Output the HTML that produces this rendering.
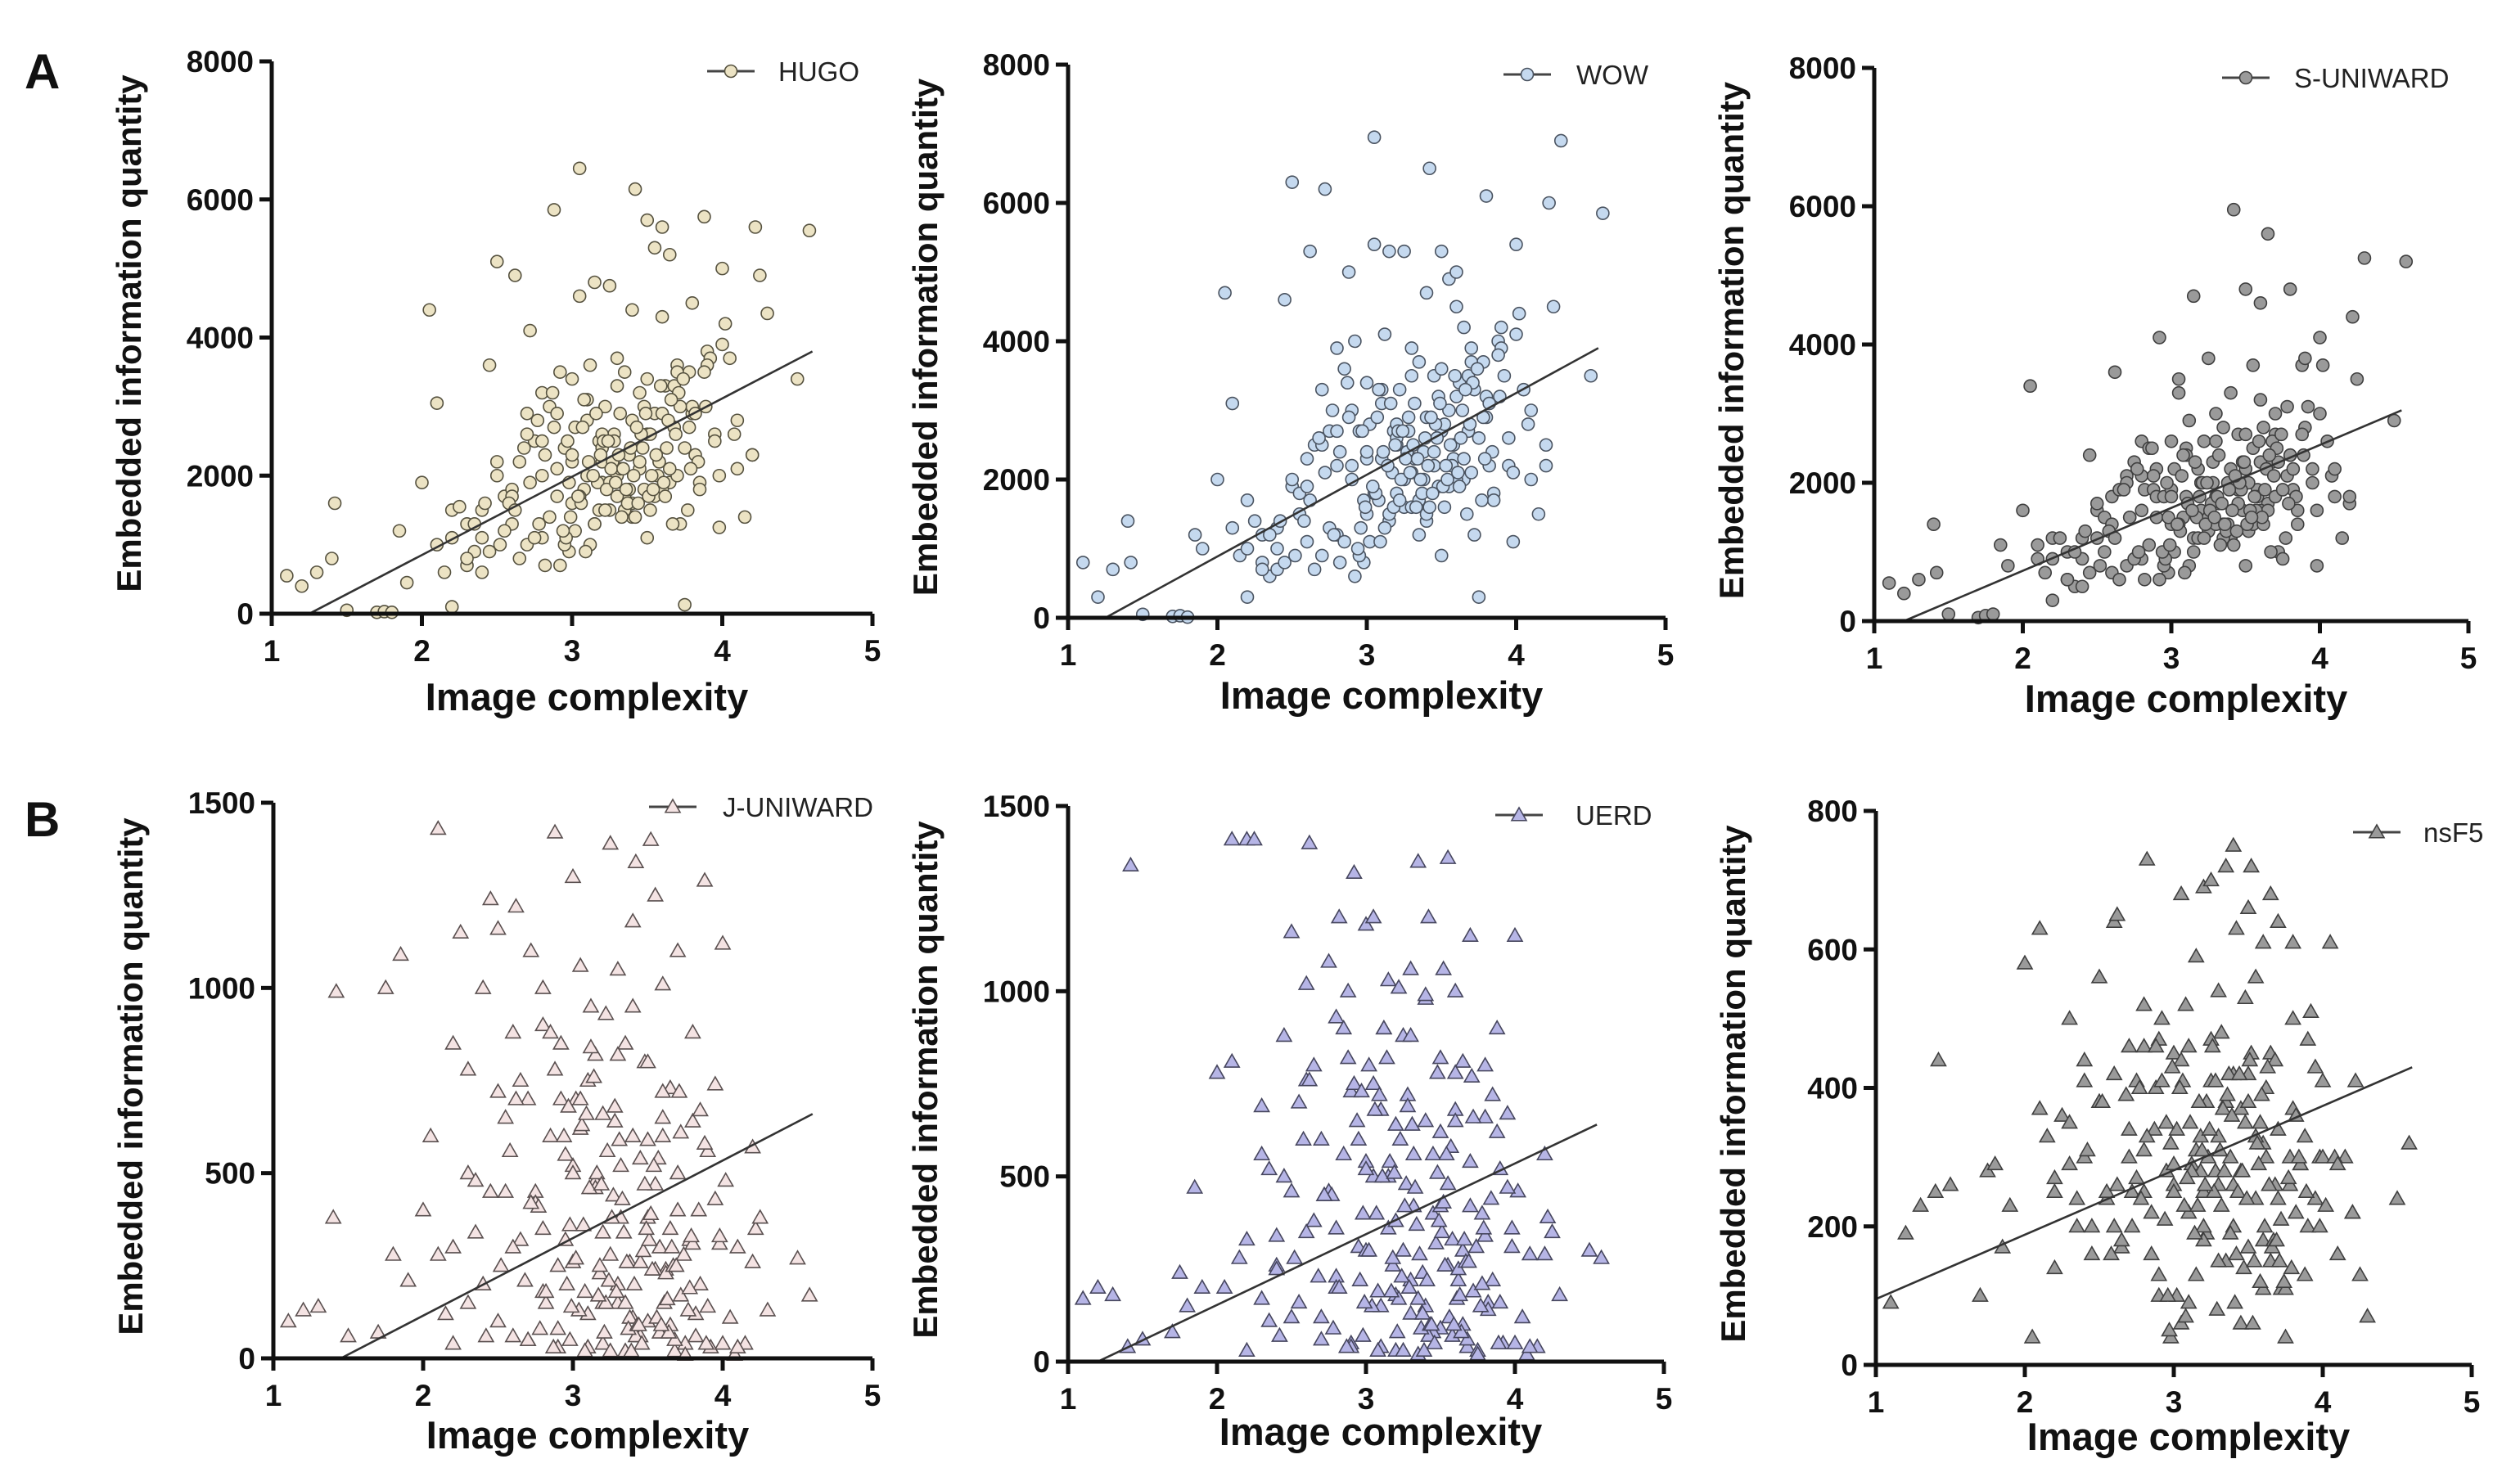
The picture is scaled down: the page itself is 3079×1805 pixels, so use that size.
<!DOCTYPE html>
<html>
<head>
<meta charset="utf-8">
<style>
html,body{margin:0;padding:0;background:#fff;}
svg{display:block;}
text{font-family:"Liberation Sans",Arial,sans-serif;}
</style>
</head>
<body>
<svg id="fig" width="3079" height="1805" viewBox="0 0 3079 1805" xmlns="http://www.w3.org/2000/svg">
  <text x="30" y="108" font-size="60" font-weight="bold" fill="#111">A</text>
  <text x="30" y="1022" font-size="60" font-weight="bold" fill="#111">B</text>
</svg>
<script>
// Shared image complexity values (same image set for all algorithms)
const complexity = [1.1,1.2,1.3,1.4,1.42,1.5,1.7,1.75,1.8,1.85,1.9,2.0,2.05,2.1,2.1,2.15,2.2,2.2,2.25,2.3,2.3,2.35,2.4,2.4,2.45,2.5,2.5,2.55,2.6,2.6,2.62,2.65,2.7,2.7,2.72,2.75,2.8,2.8,2.82,2.85,2.88,2.9,2.9,2.92,2.95,2.98,3.0,3.0,3.02,3.05,3.05,3.08,3.1,3.1,3.12,3.15,3.15,3.18,3.2,3.2,3.22,3.25,3.25,3.28,3.3,3.3,3.32,3.35,3.35,3.38,3.4,3.4,3.42,3.45,3.45,3.48,3.5,3.5,3.52,3.55,3.55,3.58,3.6,3.6,3.62,3.65,3.65,3.68,3.7,3.7,3.72,3.75,3.78,3.8,3.8,3.82,3.85,3.88,3.9,3.92,3.95,3.98,4.0,4.02,4.05,4.1,4.15,4.2,4.22,4.25,4.3,4.5,4.58,3.0,3.3,3.5,2.8,3.6,3.2,3.4];
const complexity2 = [2.4,2.45,2.5,2.55,2.6,2.65,2.7,2.75,2.8,2.85,2.9,2.95,3.0,3.05,3.1,3.15,3.2,3.25,3.3,3.35,3.4,3.45,3.5,3.55,3.6,3.65,3.7,3.75,3.8,3.85,3.9,3.95,4.0,2.58,2.68,2.78,2.88,2.98,3.08,3.18,3.28,3.38,3.48,3.58,3.68,3.78,3.88,3.98,4.08,2.92,3.02,3.12,3.22,3.32,3.42,3.52,3.62,3.72,3.82,3.27,3.37,3.47,3.57,3.17,3.07,2.97,2.87,2.77,3.67,3.77,3.31,3.41,3.51,3.21,3.11,3.61,3.71,3.36,3.46,3.26,3.16,3.56,3.66,3.06,2.96,3.43,3.33,3.53,3.23,3.63,2.2,2.3,2.35,2.42,2.52,2.62,2.72,2.82,4.1,4.2,3.34,3.44,3.54,3.24,3.14,3.64,3.74,3.84,3.04,2.94,3.39,3.49,3.29,3.19,3.59,3.69,3.09,2.99,3.79,3.89];

const hugoValues = [550,400,600,800,1600,50,20,30,20,1200,450,1900,4400,1000,3050,600,100,1500,1550,1300,700,900,1100,600,3600,2000,5100,1700,1800,1300,4900,2200,1000,2900,4100,2500,3200,1100,2300,3000,5850,2100,1700,3500,2400,900,3400,1600,2700,6450,4600,1800,2800,2000,3600,4800,1300,2500,2200,1900,3000,4750,1500,2600,2000,3700,2900,1700,3500,2300,4400,1400,6150,2100,3200,1800,5700,2600,1500,5300,2900,2200,4300,5600,3300,1900,5200,2700,3600,2000,1300,130,3500,4500,2900,2300,1900,5750,3800,3700,2600,1250,5000,4200,3700,2100,1400,2300,5600,4900,4350,3400,5550,2200,1700,1100,2500,1800,2400,1600];
const hugoValues2 = [1500,900,2200,1200,1700,800,2600,1100,2000,1400,2900,1000,2300,1700,3100,1300,2600,1900,3300,1500,2800,2200,3400,1700,2900,2100,3500,2400,3000,1800,3600,2500,3900,1600,2400,1300,2700,1900,3100,1500,2500,1800,3000,2200,3300,2700,3500,2000,2600,700,1200,1000,1500,2100,1400,2600,1700,3000,2900,2200,1600,2400,2000,1900,2700,2500,3200,2800,1300,1500,2300,2000,1700,2500,2200,1900,3200,1800,2600,2100,2900,2300,3100,1600,1100,2700,1400,2000,1800,2400,1100,800,1300,1600,1000,1500,1900,700,2800,2300,2100,1600,1800,2500,2000,2800,3400,2200,1700,1200,2400,2900,1900,2300,3300,2600,900,1400,2100,3000];
const wowValues = [800,300,700,1400,800,50,20,30,10,1200,1000,2000,4700,1300,3100,900,300,1700,1400,1200,800,600,1000,700,4600,1900,6300,1800,2300,1100,5300,2500,900,3300,6200,2700,3900,1200,2400,3600,5000,2200,2000,4000,2700,800,3400,1500,2800,6950,5400,1700,3100,2300,4100,5300,1400,2700,2500,1800,3300,5300,1600,2900,2100,3900,3100,1700,3700,2400,4700,1400,6500,2200,3500,1900,5300,2700,1600,4900,3000,2300,4500,5000,3400,2000,4200,2700,3900,2100,1200,300,3700,6100,2900,2200,1800,4000,4200,3500,2600,1100,5400,4400,3300,2000,1500,2200,6000,4500,6900,3500,5850,2300,1600,900,2700,2000,2600,1500];
const wowValues2 = [1300,800,2000,1500,1900,700,2500,1300,2200,1100,3000,900,2400,1800,3300,1500,2800,2000,3500,1200,2900,2400,3600,1900,3200,2300,3700,2600,3200,1700,3900,2200,4100,1400,2600,1200,2900,1700,3300,1600,2700,2000,3200,2500,3500,2900,3800,2100,2800,600,1100,1300,1700,2300,1600,2800,1900,3300,3100,2400,1800,2600,2200,2100,2900,2700,3400,3000,1500,1700,2500,2200,1900,2700,2400,2100,3400,2000,2800,2300,3100,2500,3300,1800,1300,2900,1600,2200,2000,2600,1000,700,1200,1400,900,1700,2100,800,3000,2500,2300,1800,2000,2700,2200,3000,3600,2400,1900,1000,2600,3100,2100,2500,3500,2800,1100,1600,2300,3200];
const suniwardValues = [550,400,600,1400,700,100,50,80,100,1100,800,1600,3400,900,1100,700,300,1200,1200,1000,600,500,900,500,2400,1600,1200,1500,1800,700,3600,1900,800,2100,1500,2300,2600,900,1900,2500,1900,1800,1500,4100,1800,700,2600,1400,2200,3300,3500,1500,2500,1800,2900,4700,1200,2200,2000,1600,2600,3800,1300,2300,1800,3000,2400,1400,2800,2000,3300,1200,5950,1900,2700,1600,4800,2200,1300,3700,2500,1900,3200,4600,2800,1700,5600,2300,3000,1800,1000,900,3100,4800,2400,1900,1600,3700,3800,3100,2200,800,4100,3700,2600,1800,1200,1700,4400,3500,5250,2900,5200,1900,1400,800,2100,1600,2000,1200];
const suniwardValues2 = [1200,700,1700,1000,1400,600,2000,900,1600,1100,2200,800,1800,1400,2400,1000,2000,1500,2600,1200,2200,1700,2700,1400,2300,1600,2700,1900,2400,1400,2800,2000,3000,1300,1900,1000,2100,1500,2400,1200,2000,1400,2300,1800,2600,2100,2700,1600,2100,600,1000,800,1200,1700,1100,2000,1400,2300,2200,1700,1300,1900,1600,1500,2100,2000,2500,2200,1000,1200,1800,1600,1400,2000,1700,1500,2500,1400,2000,1600,2300,1800,2400,1300,900,2100,1100,1600,1400,1900,900,600,1000,1300,800,1200,1500,600,2200,1800,1700,1300,1500,2000,1600,2200,2700,1800,1400,1000,1900,2300,1500,1800,2600,2100,700,1100,1700,2400];
const juniwardValues = [100,130,140,380,990,60,70,1000,280,1090,210,400,600,280,1430,120,40,850,1150,500,780,340,1000,200,1240,720,1160,450,880,60,1220,320,50,700,1100,450,900,1000,150,600,1420,250,80,850,320,50,1300,520,700,620,1060,180,750,30,950,480,820,230,660,40,930,1390,280,680,150,1050,380,20,850,260,1180,110,1340,540,260,800,590,100,1400,1250,470,70,650,1010,240,350,730,20,1100,400,170,40,320,880,640,60,200,1290,560,30,740,310,1120,480,110,300,40,570,350,380,130,270,170,500,200,800,350,600,150,950];
const juniwardValues2 = [200,450,100,650,300,750,50,420,180,880,30,550,260,700,120,460,340,20,820,150,600,60,380,240,720,90,500,10,310,670,140,430,40,560,210,80,780,360,20,250,640,110,470,300,50,190,580,330,10,700,270,840,150,520,60,390,230,610,120,440,80,290,540,170,360,680,30,410,250,130,590,200,320,70,460,150,720,260,40,380,500,110,300,630,200,90,430,240,560,160,300,150,480,60,250,700,420,180,30,260,340,90,520,210,760,70,280,400,130,600,20,350,180,470,90,250,660,140,330,40];
const uerdValues = [170,200,180,40,1340,60,80,240,150,470,200,780,200,810,1410,280,30,1410,1410,560,690,110,340,260,880,1160,460,160,1020,760,1400,380,120,600,450,1080,930,230,1200,560,1000,730,50,1320,310,70,1180,540,800,500,1200,190,680,40,900,360,1030,260,640,30,1010,880,300,720,130,1060,420,20,1350,240,980,150,1200,560,400,780,620,90,1060,1360,480,70,680,1000,220,300,810,40,1150,420,190,30,400,800,660,160,220,900,520,50,670,310,1150,460,120,290,40,560,390,350,180,300,280,520,220,820,360,650,180,990];
const uerdValues2 = [250,500,120,700,350,800,60,460,200,900,40,600,300,750,150,500,380,30,880,170,650,80,420,260,780,100,540,20,340,720,160,470,50,600,230,90,820,400,30,280,690,130,510,330,60,210,620,360,20,750,300,900,170,560,70,430,250,660,140,480,90,320,580,190,400,730,40,450,270,150,640,220,350,80,500,170,770,290,50,420,540,120,330,680,220,100,470,260,600,180,330,170,520,70,280,760,450,200,40,290,370,100,560,230,820,80,310,440,150,650,30,380,200,510,100,270,720,160,360,50];
const nsf5Values = [90,190,230,250,440,260,100,280,290,170,230,580,40,630,370,330,250,140,360,290,500,200,440,410,160,380,560,240,640,200,650,170,300,460,250,410,520,310,730,160,400,100,470,500,280,40,450,260,340,680,60,520,460,220,290,130,590,330,250,690,190,410,700,280,540,330,480,150,720,300,750,200,630,370,280,530,660,170,720,240,560,350,610,110,400,150,680,260,640,340,110,40,300,610,500,220,290,130,470,510,240,300,410,230,610,160,300,220,410,130,70,240,320,290,260,380,250,320,180,420,230,260];
const nsf5Values2 = [300,200,380,250,420,180,340,270,460,220,130,350,250,440,90,310,200,470,150,380,260,60,420,330,180,450,240,110,370,290,200,430,300,160,390,240,460,320,70,280,410,190,350,120,440,260,330,200,300,410,100,280,380,230,160,450,300,210,360,250,420,140,290,380,230,50,340,400,180,270,310,90,440,260,350,200,150,390,280,460,230,320,170,410,100,250,370,60,300,430,270,350,240,310,380,260,200,330,290,220,280,420,150,340,190,260,120,300,400,210,360,240,80,310,390,180,270,430,140,250];

// Fitted regression lines [slope, intercept, xStart, xEnd]
const hugoFit = [1134,-1418,1.25,4.6];
const wowFit = [1182,-1477,1.25,4.55];
const suniwardFit = [910,-1093,1.2,4.55];
const juniwardFit = [209.5,-304,1.45,4.6];
const uerdFit = [191,-229,1.2,4.55];
const nsf5Fit = [93,2,1.0,4.6];

const xTicks = [1,2,3,4,5];
const ticksA = [0,2000,4000,6000,8000];
const ticksJ = [0,500,1000,1500];
const ticksN = [0,200,400,600,800];

const NS = 'http://www.w3.org/2000/svg';
const svg = document.getElementById('fig');
function mk(tag, attrs, parent){
  const e = document.createElementNS(NS, tag);
  for (const k in attrs) e.setAttribute(k, attrs[k]);
  (parent||svg).appendChild(e);
  return e;
}
function marker(g, shape, cx, cy, fill, stroke){
  let m;
  if (shape === 'circle'){
    m = mk('circle',{cx:cx,cy:cy,r:7.5,fill:fill,stroke:stroke,'stroke-width':1.6},g);
  } else {
    const s = 9;
    m = mk('polygon',{points:`${cx},${cy-s} ${cx-s},${cy+s*0.75} ${cx+s},${cy+s*0.75}`,fill:fill,stroke:stroke,'stroke-width':1.6},g);
  }
  return m;
}

const panels = [
  {key:'hugo', name:'HUGO', ys:hugoValues, ys2:hugoValues2, fit:hugoFit, ticks:ticksA, ymax:8000, x0:332, x1:1066, yTop:75, yBot:750, shape:'circle', fill:'#ece3c4', stroke:'#55513f', legX:893, legY:87, txtX:951, xtY:868},
  {key:'wow', name:'WOW', ys:wowValues, ys2:wowValues2, fit:wowFit, ticks:ticksA, ymax:8000, x0:1305, x1:2035, yTop:79, yBot:755, shape:'circle', fill:'#c5d9ef', stroke:'#4a5360', legX:1866, legY:91, txtX:1926, xtY:866},
  {key:'s-uniward', name:'S-UNIWARD', ys:suniwardValues, ys2:suniwardValues2, fit:suniwardFit, ticks:ticksA, ymax:8000, x0:2290, x1:3016, yTop:83, yBot:759, shape:'circle', fill:'#9a9a9a', stroke:'#3f3f3f', legX:2744, legY:95, txtX:2803, xtY:870},
  {key:'j-uniward', name:'J-UNIWARD', ys:juniwardValues, ys2:juniwardValues2, fit:juniwardFit, ticks:ticksJ, ymax:1500, x0:334, x1:1066, yTop:981, yBot:1660, shape:'tri', fill:'#f4e3e3', stroke:'#5a5050', legX:822, legY:986, txtX:883, xtY:1770},
  {key:'uerd', name:'UERD', ys:uerdValues, ys2:uerdValues2, fit:uerdFit, ticks:ticksJ, ymax:1500, x0:1305, x1:2033, yTop:985, yBot:1664, shape:'tri', fill:'#b6b5e6', stroke:'#46465e', legX:1856, legY:996, txtX:1925, xtY:1766},
  {key:'nsf5', name:'nsF5', ys:nsf5Values, ys2:nsf5Values2, fit:nsf5Fit, ticks:ticksN, ymax:800, x0:2292, x1:3020, yTop:991, yBot:1668, shape:'tri', fill:'#9a9a9a', stroke:'#3f3f3f', legX:2904, legY:1017, txtX:2961, xtY:1772}
];

panels.forEach(p => {
  const g = mk('g',{});
  
  
  const sx = v => p.x0 + (v - 1) / 4 * (p.x1 - p.x0);
  const sy = v => p.yBot - v / p.ymax * (p.yBot - p.yTop);

  const pts = mk('g',{},g);
  
  
  const sets = [[complexity, p.ys], [complexity2, p.ys2]];
  sets.forEach(([xs, ys]) => {
    const n = Math.min(xs.length, ys.length);
    for (let i = 0; i < n; i++){
      const m = marker(pts, p.shape, sx(xs[i]), sy(ys[i]), p.fill, p.stroke);
      
      
    }
  });
  const f = p.fit;
  const ln = mk('line',{x1:sx(f[2]),y1:sy(Math.max(0,f[0]*f[2]+f[1])),x2:sx(f[3]),y2:sy(f[0]*f[3]+f[1]),stroke:'#333','stroke-width':2.6},g);
  
  

  const ax = mk('g',{stroke:'#111','stroke-width':5,fill:'none'},g);
  
  
  mk('line',{x1:p.x0,y1:p.yTop,x2:p.x0,y2:p.yBot+15},ax);
  mk('line',{x1:p.x0-15,y1:p.yBot,x2:p.x1,y2:p.yBot},ax);
  p.ticks.forEach(t => {
    mk('line',{x1:p.x0-15,y1:sy(t),x2:p.x0,y2:sy(t)},ax);
    const tl = mk('text',{x:p.x0-22,y:sy(t)+13,'font-size':37,'font-weight':'bold','text-anchor':'end',fill:'#111'},g);
    tl.textContent = t;
    
    
  });
  xTicks.forEach(t => {
    mk('line',{x1:sx(t),y1:p.yBot,x2:sx(t),y2:p.yBot+15},ax);
    const tl = mk('text',{x:sx(t),y:p.yBot+58,'font-size':37,'font-weight':'bold','text-anchor':'middle',fill:'#111'},g);
    tl.textContent = t;
    
    
  });
  const xt = mk('text',{x:(p.x0+p.x1)/2+18,y:p.xtY,'font-size':47,'font-weight':'bold','text-anchor':'middle',fill:'#111'},g);
  xt.textContent = 'Image complexity';
  
  
  const yc = (p.yTop + p.yBot) / 2 - 5;
  const ytx = p.x0 - 160;
  const yt = mk('text',{x:ytx,y:yc,'font-size':42,'font-weight':'bold','text-anchor':'middle',fill:'#111',
    transform:`rotate(-90 ${ytx} ${yc})`},g);
  yt.textContent = 'Embedded information quantity';
  
  

  const lg = mk('g',{},g);
  
  
  mk('line',{x1:p.legX-29,y1:p.legY,x2:p.legX+29,y2:p.legY,stroke:'#444','stroke-width':3},lg);
  marker(lg, p.shape, p.legX, p.legY, p.fill, p.stroke);
  const lt = mk('text',{x:p.txtX,y:p.legY+12,'font-size':33,fill:'#222'},lg);
  lt.textContent = p.name;
});
</script>
</body>
</html>
